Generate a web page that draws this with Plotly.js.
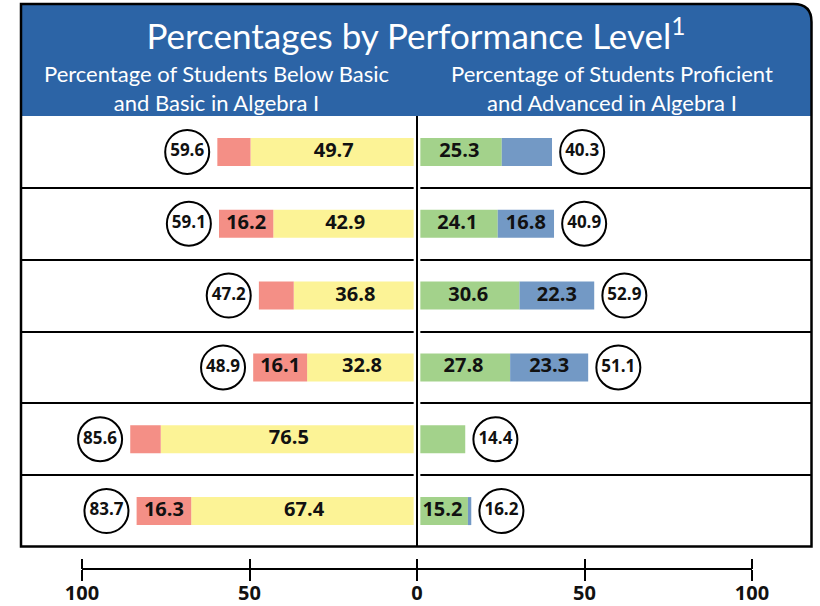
<!DOCTYPE html>
<html>
<head>
<meta charset="utf-8">
<script src="https://cdn.plot.ly/plotly-3.0.1.min.js"></script>
<style>
html,body{margin:0;padding:0;background:#fff;}
#chart{width:820px;height:606px;}
</style>
</head>
<body>
<div id="chart"></div>
<script>
// ---- data ----
var rows = [0, 1, 2, 3, 4, 5];
var belowBasic = [9.9, 16.2, 10.4, 16.1, 9.1, 16.3];
var basic = [49.7, 42.9, 36.8, 32.8, 76.5, 67.4];
var proficient = [25.3, 24.1, 30.6, 27.8, 14.4, 15.2];
var advanced = [15.0, 16.8, 22.3, 23.3, 0, 1.0];
var totalLow = [59.6, 59.1, 47.2, 48.9, 85.6, 83.7];
var totalHigh = [40.3, 40.9, 52.9, 51.1, 14.4, 16.2];
// which segment values are printed inside the bars
var showBelowBasic = [false, true, false, true, false, true];
var showBasic = [true, true, true, true, true, true];
var showProficient = [true, true, true, true, false, true];
var showAdvanced = [false, true, true, true, false, false];
var tickVals = [-100, -50, 0, 50, 100];
var tickText = ['100', '50', '0', '50', '100'];

// ---- styling ----
var W = 820, H = 606;
var C_BB = '#f48f86', C_B = '#fcf396', C_P = '#a3d28b', C_A = '#7399c5';
var HEADER = '#2c64a6';
function px(x) { return x / W; }
function py(y) { return 1 - y / H; }
var yDom = [py(547), py(116)];
var barW = 0.39;
var circleOffset = 9;

function bar(vals, sign, color) {
  return {
    type: 'bar', orientation: 'h',
    x: vals.map(function (v) { return sign * v; }), y: rows,
    width: barW, marker: {color: color, line: {width: 0}},
    hoverinfo: 'skip', showlegend: false
  };
}

// label positions (segment centres)
var lx = [], ly = [], lt = [];
rows.forEach(function (r, i) {
  if (showBasic[i]) { lx.push(-basic[i] / 2); ly.push(r); lt.push(basic[i].toFixed(1)); }
  if (showBelowBasic[i]) { lx.push(-(basic[i] + belowBasic[i] / 2)); ly.push(r); lt.push(belowBasic[i].toFixed(1)); }
  if (showProficient[i]) { lx.push(proficient[i] / 2); ly.push(r); lt.push(proficient[i].toFixed(1)); }
  if (showAdvanced[i]) { lx.push(proficient[i] + advanced[i] / 2); ly.push(r); lt.push(advanced[i].toFixed(1)); }
});

var cx = [], cy = [], ct = [];
rows.forEach(function (r, i) {
  cx.push(-(totalLow[i] + circleOffset)); cy.push(r); ct.push(totalLow[i].toFixed(1));
  cx.push(totalHigh[i] + circleOffset); cy.push(r); ct.push(totalHigh[i].toFixed(1));
});

var traces = [
  bar(basic, -1, C_B),
  bar(belowBasic, -1, C_BB),
  bar(proficient, 1, C_P),
  bar(advanced, 1, C_A),
  {
    type: 'scatter', mode: 'text', x: lx, y: ly, text: lt,
    textposition: 'middle center',
    textfont: {family: 'Open Sans', size: 20, weight: 700, color: '#111'},
    hoverinfo: 'skip', showlegend: false, cliponaxis: false
  },
  {
    type: 'scatter', mode: 'markers+text', x: cx, y: cy, text: ct,
    textposition: 'middle center',
    marker: {symbol: 'circle', size: 44, color: '#fff', line: {color: '#000', width: 2}},
    textfont: {family: 'Open Sans', size: 17, weight: 700, color: '#111'},
    hoverinfo: 'skip', showlegend: false, cliponaxis: false
  },
  {type: 'scatter', mode: 'markers', x: [0], y: [null], xaxis: 'x2', yaxis: 'y', showlegend: false, hoverinfo: 'skip'},
  {type: 'scatter', mode: 'markers', x: [0], y: [null], xaxis: 'x3', yaxis: 'y', showlegend: false, hoverinfo: 'skip'}
];

var cxPix = 417, scale = 3.35;
var axisY = py(569.3);

// rounded header / frame paths (paper coords)
var L = px(21), R = px(811.5), T = py(4), B = py(546.5), HB = py(116);
var rx = px(18), ry = 18 / H;
var headerPath = 'M ' + L + ',' + HB + ' L ' + L + ',' + T + ' L ' + (R - rx) + ',' + T +
  ' Q ' + R + ',' + T + ' ' + R + ',' + (T - ry) + ' L ' + R + ',' + HB + ' Z';
var framePath = 'M ' + L + ',' + B + ' L ' + L + ',' + T + ' L ' + (R - rx) + ',' + T +
  ' Q ' + R + ',' + T + ' ' + R + ',' + (T - ry) + ' L ' + R + ',' + B + ' Z';

var layout = {
  width: W, height: H,
  margin: {l: 0, r: 0, t: 0, b: 0},
  paper_bgcolor: '#fff', plot_bgcolor: 'rgba(0,0,0,0)',
  barmode: 'relative',
  showlegend: false,
  font: {family: 'Open Sans', color: '#111'},
  title: {
    text: 'Percentages by Performance Level<sup>1</sup>',
    font: {family: 'Lato', size: 35, color: '#fff'},
    xref: 'paper', x: px(416), xanchor: 'center',
    yref: 'container', y: py(37), yanchor: 'middle'
  },
  xaxis: {
    domain: [px(21), px(812)],
    range: [(21 - cxPix) / scale, (812 - cxPix) / scale],
    showgrid: false, zeroline: false, showticklabels: false, ticks: '', showline: false,
    fixedrange: true
  },
  yaxis: {
    domain: yDom, range: [5.5, -0.5],
    tickvals: [0.5, 1.5, 2.5, 3.5, 4.5],
    showgrid: true, gridcolor: '#000', gridwidth: 2,
    zeroline: false, showticklabels: false, ticks: '', showline: false,
    fixedrange: true
  },
  xaxis2: {
    domain: [px(cxPix - 100 * scale), px(cxPix + 100 * scale)],
    range: [-100, 100], anchor: 'free', position: axisY,
    showline: true, linecolor: '#000', linewidth: 2,
    ticks: 'outside', ticklen: 11, tickwidth: 2, tickcolor: '#000',
    tickvals: tickVals, ticktext: tickText, ticklabelstandoff: -5,
    tickfont: {family: 'Open Sans', size: 20, weight: 700, color: '#111'},
    showgrid: false, zeroline: false, fixedrange: true
  },
  xaxis3: {
    overlaying: 'x2', side: 'top',
    range: [-100, 100], anchor: 'free', position: axisY,
    showline: false,
    ticks: 'outside', ticklen: 10, tickwidth: 2, tickcolor: '#000',
    tickvals: tickVals, showticklabels: false,
    showgrid: false, zeroline: false, fixedrange: true
  },
  shapes: [
    {type: 'path', xref: 'paper', yref: 'paper', path: headerPath, fillcolor: HEADER, line: {width: 0}, layer: 'below'},
    {type: 'rect', xref: 'x', yref: 'paper', x0: -1, x1: 1, y0: yDom[0], y1: yDom[1], fillcolor: '#fff', line: {width: 0}, layer: 'above'},
    {type: 'line', xref: 'x', yref: 'paper', x0: 0, x1: 0, y0: yDom[0], y1: yDom[1], line: {color: '#000', width: 2}, layer: 'above'},
    {type: 'path', xref: 'paper', yref: 'paper', path: framePath, line: {color: '#000', width: 2.5}, layer: 'above'}
  ],
  annotations: [
    {
      text: 'Percentage of Students Below Basic<br>and Basic in Algebra I',
      xref: 'paper', yref: 'paper', x: px(216), y: py(88), xanchor: 'center', yanchor: 'middle',
      showarrow: false, align: 'center',
      font: {family: 'Lato', size: 22, color: '#fff'}
    },
    {
      text: 'Percentage of Students Proficient<br>and Advanced in Algebra I',
      xref: 'paper', yref: 'paper', x: px(612), y: py(88), xanchor: 'center', yanchor: 'middle',
      showarrow: false, align: 'center',
      font: {family: 'Lato', size: 22, color: '#fff'}
    }
  ]
};

Plotly.newPlot('chart', traces, layout, {displayModeBar: false, staticPlot: true});
</script>
</body>
</html>
